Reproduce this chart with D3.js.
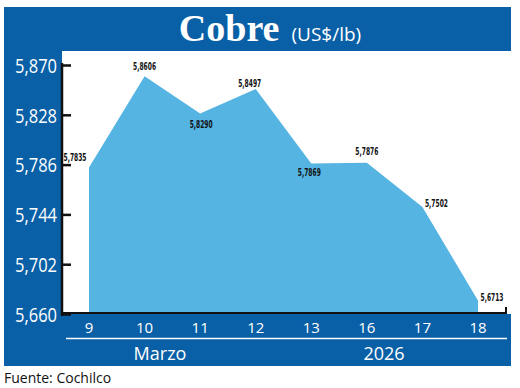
<!DOCTYPE html>
<html>
<head>
<meta charset="utf-8">
<script src="https://cdn.jsdelivr.net/npm/d3@7"></script>
<style>
  body { margin: 0; background: #fff; }
  svg { display: block; }
</style>
</head>
<body>
<script>
// data
const days = ['9', '10', '11', '12', '13', '16', '17', '18'];
const prices = [5.7835, 5.8606, 5.8290, 5.8497, 5.7869, 5.7876, 5.7502, 5.6713];
const yTicks = [5.660, 5.702, 5.744, 5.786, 5.828, 5.870];
const labelOffset = [[-14, -10], [0, -10], [1, 11], [-6, -6], [-2, 9], [0, -11], [14, -4], [14, -3]];

const W = 520, H = 388;
const blue = '#0a60a6', area = '#56b4e3';

const svg = d3.select('body').append('svg')
  .attr('width', W)
  .attr('height', H);

const x = d3.scalePoint()
  .domain(days)
  .range([89, 478]);

const y = d3.scaleLinear()
  .domain([5.66, 5.87])
  .range([314, 65]);

// frame: top band, left panel, bottom band
svg.append('rect').attr('x', 4).attr('y', 7).attr('width', 507).attr('height', 44).attr('fill', blue);
svg.append('rect').attr('x', 4).attr('y', 50).attr('width', 58).attr('height', 316).attr('fill', blue);
svg.append('rect').attr('x', 4).attr('y', 314).attr('width', 507).attr('height', 52).attr('fill', blue);

// title
const title = svg.append('text')
  .attr('x', 270)
  .attr('y', 41)
  .attr('text-anchor', 'middle')
  .attr('fill', '#fff');
title.append('tspan')
  .attr('font-family', 'Liberation Serif, serif')
  .attr('font-weight', 'bold')
  .attr('font-size', 38)
  .text('Cobre');
title.append('tspan')
  .attr('font-family', 'Open Sans, sans-serif')
  .attr('font-size', 19)
  .attr('dx', 12)
  .text('(US$/lb)');

// area
const areaGen = d3.area()
  .x((d, i) => x(days[i]))
  .y0(y(5.66) - 1)
  .y1(d => y(d));

svg.append('path')
  .datum(prices)
  .attr('d', areaGen)
  .attr('fill', area);

// y axis
const yAxis = svg.append('g')
  .attr('transform', 'translate(62,0)')
  .call(d3.axisRight(y)
    .tickValues(yTicks)
    .tickSize(9)
    .tickFormat(d => d3.format('.3f')(d).replace('.', ',')));
yAxis.select('.domain').attr('stroke', '#111').attr('stroke-width', 2.5)
  .attr('d', `M0,${y(5.87) - 2}V${y(5.66) + 2}`);
yAxis.selectAll('.tick line').attr('stroke', '#111').attr('stroke-width', 2.5);
yAxis.selectAll('.tick text')
  .attr('x', -5)
  .attr('dy', '0.36em')
  .attr('text-anchor', 'end')
  .attr('fill', '#fff')
  .attr('font-family', 'Open Sans, sans-serif')
  .attr('font-size', 20)
  .attr('textLength', 42)
  .attr('lengthAdjust', 'spacingAndGlyphs');

// x axis line
svg.append('path')
  .attr('d', `M62,${y(5.66) - 1}H506V${y(5.66) - 7}`)
  .attr('fill', 'none')
  .attr('stroke', '#111')
  .attr('stroke-width', 2);

// x tick labels
svg.append('g')
  .selectAll('text')
  .data(days)
  .join('text')
  .attr('x', d => x(d))
  .attr('y', 333)
  .attr('text-anchor', 'middle')
  .attr('fill', '#fff')
  .attr('font-family', 'Open Sans, sans-serif')
  .attr('font-size', 15)
  .text(d => d);

svg.append('line')
  .attr('x1', 66).attr('x2', 507)
  .attr('y1', 338.5).attr('y2', 338.5)
  .attr('stroke', '#fff')
  .attr('stroke-width', 1.5);

svg.append('text')
  .attr('x', 160).attr('y', 360)
  .attr('text-anchor', 'middle')
  .attr('fill', '#fff')
  .attr('font-family', 'Open Sans, sans-serif')
  .attr('font-size', 18)
  .text('Marzo');

svg.append('text')
  .attr('x', 384).attr('y', 360)
  .attr('text-anchor', 'middle')
  .attr('fill', '#fff')
  .attr('font-family', 'Open Sans, sans-serif')
  .attr('font-size', 18)
  .text('2026');

// value labels
svg.append('g')
  .selectAll('text')
  .data(prices)
  .join('text')
  .attr('x', (d, i) => x(days[i]) + labelOffset[i][0])
  .attr('y', (d, i) => y(d) + labelOffset[i][1])
  .attr('dy', '0.35em')
  .attr('text-anchor', 'middle')
  .attr('fill', '#111')
  .attr('font-family', 'DejaVu Sans Condensed, DejaVu Sans, sans-serif')
  .attr('font-weight', 'bold')
  .attr('font-size', 10)
  .attr('textLength', 23)
  .attr('lengthAdjust', 'spacingAndGlyphs')
  .text(d => d3.format('.4f')(d).replace('.', ','));

// source
svg.append('text')
  .attr('x', 4).attr('y', 383)
  .attr('fill', '#111')
  .attr('font-family', 'Open Sans, sans-serif')
  .attr('font-size', 14)
  .text('Fuente: Cochilco');
</script>
</body>
</html>
